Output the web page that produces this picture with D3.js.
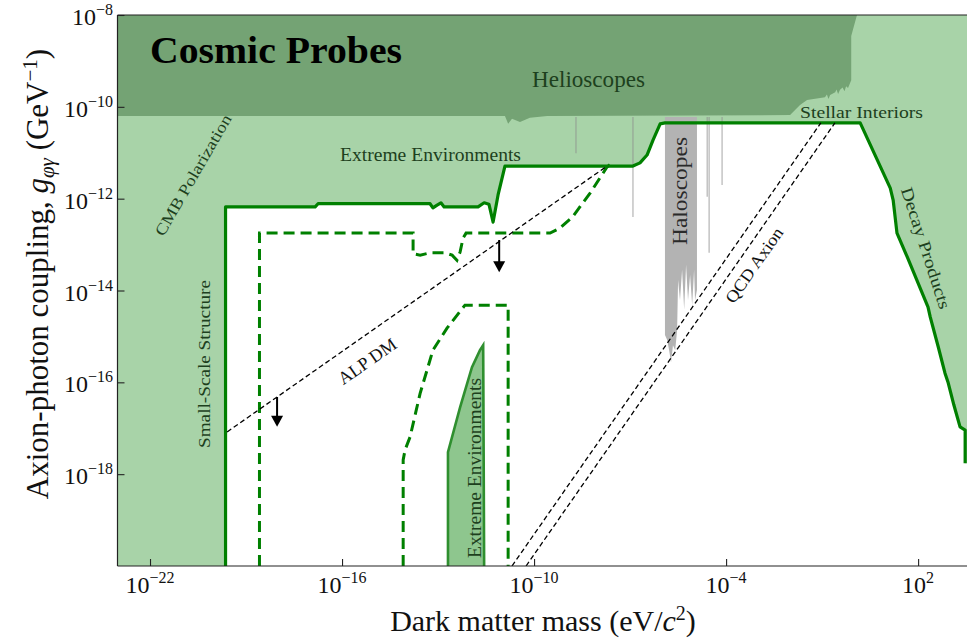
<!DOCTYPE html>
<html><head><meta charset="utf-8">
<script src="https://cdn.jsdelivr.net/npm/d3@7"></script>
<style>
body{margin:0;background:#fff}
svg{display:block}
text{font-family:"Liberation Serif","DejaVu Serif",serif}
</style>
</head><body><svg id="c" width="967" height="639"></svg>
<script>
// ---- data (log10 of mass in eV, log10 of coupling in GeV^-1) ----
const xTickExp = [-22, -16, -10, -4, 2];
const yTickExp = [-8, -10, -12, -14, -16, -18];

const helioscopes = [[-23.2,-8],[0.09,-8],[-0.09,-8.46],[-0.09,-9.42],[-0.19,-9.59],[-0.25,-9.55],[-0.30,-9.66],
  [-0.36,-9.58],[-0.44,-9.63],[-0.50,-9.72],[-0.55,-9.62],[-0.59,-9.68],[-0.75,-9.74],[-0.80,-9.83],[-0.85,-9.73],
  [-0.91,-9.79],[-1.47,-9.85],[-1.69,-9.96],[-2.0,-10.18],[-9.59,-10.20],[-10.13,-10.24],[-10.44,-10.33],
  [-10.69,-10.26],[-10.81,-10.37],[-10.91,-10.20],[-23.2,-10.20]];

const boundary = [[-19.64,-20],[-19.64,-12.18],[-16.84,-12.18],[-16.75,-12.11],[-13.25,-12.11],[-13.16,-12.20],
  [-13.03,-12.14],[-12.91,-12.09],[-12.81,-12.18],[-11.75,-12.18],[-11.56,-12.09],[-11.41,-12.12],[-11.28,-12.51],
  [-11.125,-11.92],[-10.91,-11.29],[-6.91,-11.29],[-6.69,-11.22],[-6.47,-11.05],[-6.28,-10.72],[-6.06,-10.37],
  [-5.91,-10.35],[0.19,-10.35],[1.13,-11.77],[1.22,-12.03],[1.34,-12.75],[1.66,-13.27],[2.31,-14.36],[2.38,-14.58],
  [2.63,-15.23],[2.84,-15.80],[2.94,-16.01],[3.12,-16.50],[3.31,-16.97],[3.47,-17.04],[3.47,-17.76]];

const projectionA = [[-18.58,-20],[-18.58,-12.75],[-13.78,-12.75],[-13.78,-13.20],[-13.56,-13.23],[-13.25,-13.18],
  [-12.78,-13.18],[-12.56,-13.23],[-12.41,-13.34],[-12.31,-13.16],[-12.22,-12.86],[-12.125,-12.75],[-9.5,-12.75],
  [-9.19,-12.64],[-8.8,-12.40],[-8.25,-11.88],[-7.72,-11.31],[-7.56,-11.22]];

const projectionB = [[-14.09,-20],[-14.09,-17.69],[-14.03,-17.47],[-13.875,-17.19],[-13.56,-16.24],[-13.16,-15.30],
  [-12.72,-14.82],[-12.16,-14.32],[-10.81,-14.32],[-10.81,-20]];

const extremeEnv = [[-12.69,-20],[-12.69,-17.52],[-12.31,-16.54],[-11.94,-15.67],[-11.69,-15.30],[-11.59,-15.19],[-11.56,-20]];

const haloscopeBand = [[-5.91,-10.22],[-4.91,-10.22],[-4.91,-13.99],[-4.97,-14.21],[-5.0,-13.55],[-5.06,-14.32],
  [-5.125,-13.66],[-5.19,-14.21],[-5.25,-13.44],[-5.31,-14.42],[-5.375,-13.55],[-5.44,-14.21],[-5.5,-13.77],
  [-5.53,-14.86],[-5.59,-15.30],[-5.66,-15.19],[-5.72,-15.56],[-5.78,-15.30],[-5.84,-15.08],[-5.91,-14.97]];

// [log m, top log g, bottom log g]
const haloscopeLines = [[-8.69,-10.22,-11.01],[-6.91,-10.22,-12.40],[-4.59,-10.22,-11.96],[-4.53,-10.22,-13.18],[-4.125,-10.22,-11.70]];

const alpDM = [[-19.59,-17.08],[-7.72,-11.29]];
const qcdA = [[-10.69,-20],[-1.04,-10.35]];
const qcdB = [[-10.25,-20],[-0.60,-10.35]];
// [log m, start log g, tip log g]
const arrows = [[-18.03,-16.32,-16.97],[-11.09,-12.90,-13.60]];

// ---- scales ----
const x = d3.scaleLog().domain([Math.pow(10,-23.016), Math.pow(10,3.59)]).range([117.5, 969]);
const y = d3.scaleLog().domain([1e-20, 1e-8]).range([566, 15]);
const X = v => x(Math.pow(10, v));
const Y = v => y(Math.pow(10, v));
const line = d3.line().x(d => X(d[0])).y(d => Y(d[1]));

const svg = d3.select("#c");
svg.append("defs").append("clipPath").attr("id","plot")
  .append("rect").attr("x",117.5).attr("y",15).attr("width",851.5).attr("height",551);

const g = svg.append("g").attr("clip-path","url(#plot)");
g.append("rect").attr("x",117.5).attr("y",15).attr("width",860).attr("height",551).attr("fill","#a8d3a8");
g.append("path").attr("d", line(boundary.concat([[3.9,-17.76],[3.9,-20.2],[-19.64,-20.2]])) + "Z").attr("fill","#fff");
g.append("path").attr("d", line(helioscopes) + "Z").attr("fill","#74a374");

haloscopeLines.forEach(d => {
  g.append("line").attr("x1",X(d[0])).attr("x2",X(d[0])).attr("y1",Y(d[1])).attr("y2",Y(d[2]))
    .attr("stroke","#8c8c8c").attr("stroke-opacity",0.6).attr("stroke-width",1.3);
});
g.append("path").attr("d", line(haloscopeBand) + "Z").attr("fill","#b3b3b3");

g.append("path").attr("d", line(extremeEnv)).attr("fill","#8ec68e").attr("stroke","#2f8f2f").attr("stroke-width",2.6);

[projectionA, projectionB].forEach(p => {
  g.append("path").attr("d", line(p)).attr("fill","none").attr("stroke","#008000")
    .attr("stroke-width",3).attr("stroke-dasharray","11,6");
});
g.append("path").attr("d", line(boundary)).attr("fill","none").attr("stroke","#008000")
  .attr("stroke-width",3.2).attr("stroke-linejoin","round");

[alpDM, qcdA, qcdB].forEach(p => {
  g.append("path").attr("d", line(p)).attr("fill","none").attr("stroke","#000")
    .attr("stroke-width",1.3).attr("stroke-dasharray","5,3");
});

arrows.forEach(a => {
  const ax = X(a[0]), y0 = Y(a[1]), y1 = Y(a[2]);
  g.append("line").attr("x1",ax).attr("x2",ax).attr("y1",y0).attr("y2",y1-9).attr("stroke","#000").attr("stroke-width",2);
  g.append("path").attr("d",`M${ax-6},${y1-11}L${ax+6},${y1-11}L${ax},${y1}Z`).attr("fill","#000");
});

// ---- region labels ----
const labels = g.append("g");
labels.append("text").attr("x",150).attr("y",63).attr("font-size",38).attr("font-weight","bold")
  .attr("textLength",252).attr("lengthAdjust","spacingAndGlyphs").attr("fill","#000").text("Cosmic Probes");
labels.append("text").attr("x",532).attr("y",87).attr("font-size",23).attr("textLength",113)
  .attr("lengthAdjust","spacingAndGlyphs").attr("fill","#1d401d").text("Helioscopes");
labels.append("text").attr("x",340).attr("y",161).attr("font-size",18.5).attr("textLength",181)
  .attr("lengthAdjust","spacingAndGlyphs").attr("fill","#1d401d").text("Extreme Environments");
labels.append("text").attr("x",800).attr("y",118).attr("font-size",17).attr("textLength",123)
  .attr("lengthAdjust","spacingAndGlyphs").attr("fill","#1d401d").text("Stellar Interiors");

function rotLabel(txt, cx, cy, ang, size, len, fill) {
  const t = labels.append("text").attr("transform",`translate(${cx},${cy}) rotate(${ang})`)
    .attr("text-anchor","middle").attr("dy","0.35em").attr("font-size",size)
    .attr("fill",fill).text(txt);
  if (len) t.attr("textLength",len).attr("lengthAdjust","spacingAndGlyphs");
}
function vertLabel(txt, bx, cy, size, len, fill) {
  labels.append("text").attr("transform",`translate(${bx},${cy}) rotate(-90)`)
    .attr("text-anchor","middle").attr("font-size",size)
    .attr("textLength",len).attr("lengthAdjust","spacingAndGlyphs").attr("fill",fill).text(txt);
}
rotLabel("CMB Polarization", 193, 175, -60, 16, 137, "#1d401d");
rotLabel("ALP DM", 367, 361, -35, 18, 0, "#111");
rotLabel("QCD Axion", 754, 265, -55, 17, 88, "#111");
rotLabel("Decay Products", 926, 248, 72, 17, 127, "#1d401d");
vertLabel("Small-Scale Structure", 210, 364, 16, 168, "#1d401d");
vertLabel("Extreme Environments", 481, 468, 18, 180, "#1d401d");
vertLabel("Haloscopes", 687, 191, 21, 108, "#2a2a2a");

// ---- axes ----
const ax = svg.append("g");
const spine = "#222";
ax.append("line").attr("x1",117.5).attr("x2",117.5).attr("y1",15).attr("y2",566).attr("stroke",spine).attr("stroke-width",1.2);
ax.append("line").attr("x1",117.5).attr("x2",970).attr("y1",566).attr("y2",566).attr("stroke",spine).attr("stroke-width",1.2);
ax.append("line").attr("x1",117.5).attr("x2",970).attr("y1",15).attr("y2",15).attr("stroke",spine).attr("stroke-width",1.2);

const xAxis = d3.axisBottom(x).tickValues(xTickExp.map(e => Math.pow(10,e))).tickSize(-7).tickFormat("");
const yAxis = d3.axisLeft(y).tickValues(yTickExp.map(e => Math.pow(10,e))).tickSize(-7).tickFormat("");
const gx = ax.append("g").attr("transform","translate(0,566)").call(xAxis);
const gy = ax.append("g").attr("transform","translate(117.5,0)").call(yAxis);
[gx, gy].forEach(a => { a.select(".domain").remove(); a.selectAll("line").attr("stroke",spine).attr("stroke-width",1.1); });

xTickExp.forEach(e => {
  const t = ax.append("text").attr("x",X(e)).attr("y",593).attr("text-anchor","middle").attr("font-size",24).attr("fill","#111");
  t.append("tspan").text("10");
  t.append("tspan").attr("dy",-10).attr("font-size",16).text(e < 0 ? "−" + (-e) : String(e));
});
yTickExp.forEach(e => {
  const t = ax.append("text").attr("x",113).attr("y",Y(e)+10).attr("text-anchor","end").attr("font-size",24).attr("fill","#111");
  t.append("tspan").text("10");
  t.append("tspan").attr("dy",-10).attr("font-size",16).text("−" + (-e));
});

// axis titles
const xt = ax.append("text").attr("x",543).attr("y",631).attr("text-anchor","middle").attr("font-size",30).attr("fill","#111");
xt.append("tspan").text("Dark matter mass (eV/");
xt.append("tspan").attr("font-style","italic").text("c");
xt.append("tspan").attr("dy",-11).attr("font-size",20).text("2");
xt.append("tspan").attr("dy",11).text(")");

const yt = ax.append("text").attr("transform","translate(48,274) rotate(-90)").attr("text-anchor","middle").attr("font-size",31).attr("fill","#111");
yt.append("tspan").text("Axion-photon coupling, ");
yt.append("tspan").attr("font-style","italic").text("g");
yt.append("tspan").attr("dy",6).attr("font-size",21).attr("font-style","italic").text("φγ");
yt.append("tspan").attr("dy",-6).text(" (GeV");
yt.append("tspan").attr("dy",-11).attr("font-size",21).text("−1");
yt.append("tspan").attr("dy",11).text(")");
</script>
</body></html>
